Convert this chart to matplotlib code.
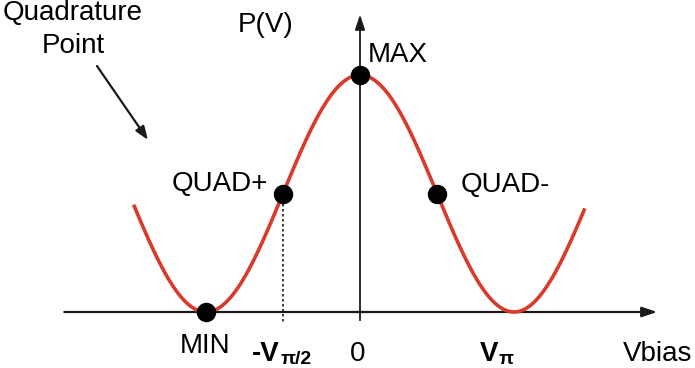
import numpy as np
import matplotlib
matplotlib.use("Agg")
import matplotlib.pyplot as plt

plt.rcParams['font.family'] = ['Liberation Sans', 'DejaVu Sans']

# ---- data (bias in units of V_pi, power normalised) ----
curve_start = -1.47
curve_end = 1.46
point_names = ["MIN", "QUAD+", "MAX", "QUAD-"]
point_bias = [-1.0, -0.5, 0.0, 0.5]
point_power = [0.0, 0.5, 1.0, 0.5]
tick_main = ["-V", "0", "V"]
tick_sub = ["π/2", "", "π"]

fig = plt.figure(figsize=(6.95, 3.68), dpi=100)
ax = fig.add_axes([0, 0, 1, 1])
ax.set_xlim(-360 / 154, 335 / 154)
ax.set_ylim(-56 / 237, 312 / 237)
ax.axis('off')

red = '#d83a2c'
dark = '#1a1a1a'

v = np.linspace(curve_start, curve_end, 600)
p = (1 + np.cos(np.pi * v)) / 2
ax.plot(v, p, color=red, lw=2.6, zorder=3, solid_capstyle='butt')

# axes
ax.annotate('', xy=(1.93, 0), xytext=(-1.92, 0),
            arrowprops=dict(arrowstyle='-|>,head_length=0.9,head_width=0.3', color=dark, lw=1.6,
                            shrinkA=0, shrinkB=0), zorder=2)
ax.annotate('', xy=(0, 1.255), xytext=(0, -0.035),
            arrowprops=dict(arrowstyle='-|>,head_length=0.9,head_width=0.3', color=dark, lw=1.3,
                            shrinkA=0, shrinkB=0), zorder=2)

# dotted line at QUAD+
ax.plot([point_bias[1], point_bias[1]], [point_power[1], -0.045], color=dark, lw=1.2,
        ls=(0, (1.5, 1.5)), zorder=2)

ax.plot(point_bias, point_power, 'o', color='black', ms=13, zorder=4)

fs = 20
fs_sub = 14
ax.text(-1.006, -0.173, point_names[0], ha='center', va='baseline', fontsize=fs)
ax.text(-0.597, 0.540, point_names[1], ha='right', va='center', fontsize=fs)
ax.text(0.052, 1.084, point_names[2], ha='left', va='center', fontsize=fs)
ax.text(0.656, 0.536, point_names[3], ha='left', va='center', fontsize=fs)

base_y = -0.207
sub_y = -0.219
ax.text(-0.701, base_y, tick_main[0], ha='left', va='baseline', fontsize=fs, fontweight='bold')
ax.text(-0.515, sub_y, tick_sub[0], ha='left', va='baseline', fontsize=fs_sub, fontweight='bold')
ax.text(-0.013, base_y, tick_main[1], ha='center', va='baseline', fontsize=fs)
ax.text(0.779, base_y, tick_main[2], ha='left', va='baseline', fontsize=fs, fontweight='bold')
ax.text(0.897, sub_y, tick_sub[2], ha='left', va='baseline', fontsize=fs_sub, fontweight='bold')

ax.text(1.708, base_y, "Vbias", ha='left', va='baseline', fontsize=fs)
ax.text(-0.610, 1.181, "P(V)", ha='center', va='baseline', fontsize=fs)

ax.text(-1.864, 1.232, "Quadrature", ha='center', va='baseline', fontsize=fs)
ax.text(-1.864, 1.093, "Point", ha='center', va='baseline', fontsize=fs)
ax.annotate('', xy=(-1.377, 0.726), xytext=(-1.708, 1.038),
            arrowprops=dict(arrowstyle='-|>,head_length=0.8,head_width=0.3', color=dark, lw=1.6,
                            shrinkA=0, shrinkB=0))

fig.savefig('out.png', dpi=100, facecolor='white')
